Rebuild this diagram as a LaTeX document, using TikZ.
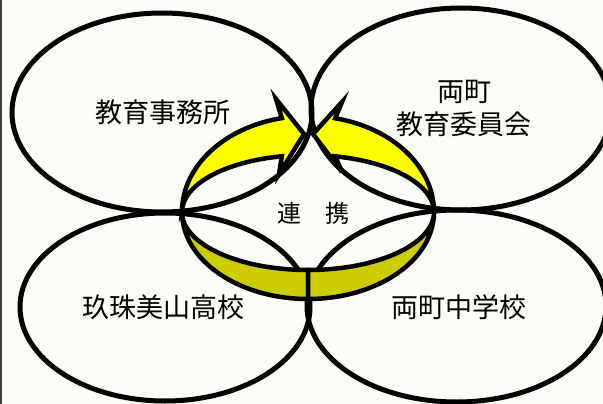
\documentclass[tikz,border=0pt]{standalone}
\usepackage{fontspec}
\newfontfamily\jp{Noto Sans CJK JP}
\definecolor{bg}{RGB}{250,253,245}
\definecolor{ringtop}{RGB}{255,255,0}
\definecolor{ringside}{RGB}{204,204,0}
\begin{document}
\begin{tikzpicture}[x=1pt,y=-1pt,
  circ/.style={draw=black,line width=5pt},
  topface/.style={fill=ringtop,draw=black,line width=4.5pt,line join=miter,miter limit=8},
  sideface/.style={fill=ringside,draw=black,line width=4.5pt,line join=miter},
  lbl/.style={font=\jp\fontsize{27}{33}\selectfont,text=black,inner sep=0pt,align=center},
  mid/.style={font=\jp\fontsize{24}{28}\selectfont,text=black,inner sep=0pt}]
\fill[bg] (0,0) rectangle (603,404);
\useasboundingbox (0,0) rectangle (603,404);
\draw[black!75,line width=2pt] (1,0) -- (1,404);

% four ellipses
\draw[circ] (162,112.5) ellipse[x radius=150,y radius=99.5];
\draw[circ] (461,109) ellipse[x radius=150,y radius=101];
\draw[circ] (165,307) ellipse[x radius=145,y radius=94];
\draw[circ] (456.5,306) ellipse[x radius=149.5,y radius=96];

% ring key points
\coordinate (L) at (182,212);
\coordinate (R) at (434,212);
\coordinate (B1) at (308,270);

% lower side band, two halves
\filldraw[sideface] (B1) arc[start angle=90,end angle=180,x radius=126,y radius=58]
  arc[start angle=180,end angle=90,x radius=126,y radius=87] -- cycle;
\filldraw[sideface] (B1) arc[start angle=90,end angle=0,x radius=126,y radius=58]
  arc[start angle=0,end angle=90,x radius=126,y radius=87] -- cycle;

% left curved arrow (top face)
\filldraw[topface] (L) arc[start angle=180,end angle=258,x radius=126,y radius=96]
  -- (276,99) -- (304,134) -- (279,174) -- (281.8,156.25)
  arc[start angle=258,end angle=180,x radius=126,y radius=57] -- cycle;
% right curved arrow (top face)
\filldraw[topface] (R) arc[start angle=0,end angle=-77.5,x radius=126,y radius=96]
  -- (342,102) -- (313,134) -- (342,172) -- (335.3,156.35)
  arc[start angle=-77.5,end angle=0,x radius=126,y radius=57] -- cycle;

% labels
\node[lbl] (office) at (163,112) {教育事務所};
\node[lbl] (board) at (464,108.5) {両町\\教育委員会};
\node[lbl] (high) at (163,307) {玖珠美山高校};
\node[lbl] (junior) at (459,307) {両町中学校};
\node[mid] (link) at (313,213) {連　携};
\end{tikzpicture}
\end{document}
